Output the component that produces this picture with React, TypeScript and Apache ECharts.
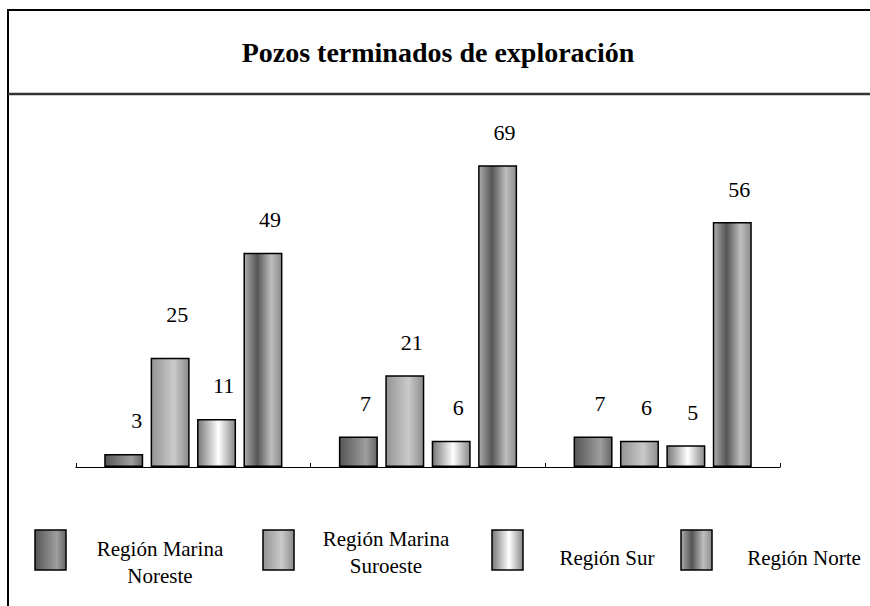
import React, { useEffect, useRef } from "react";
import * as echarts from "echarts";

// ---- Data ----
const categories = ["Grupo 1", "Grupo 2", "Grupo 3"];
const seriesNames = ["Región Marina Noreste", "Región Marina Suroeste", "Región Sur", "Región Norte"];
const marinaNoreste = [3, 7, 7];
const marinaSuroeste = [25, 21, 6];
const regionSur = [11, 6, 5];
const regionNorte = [49, 69, 56];
const seriesValues = [marinaNoreste, marinaSuroeste, regionSur, regionNorte];
const titleText = "Pozos terminados de exploración";

// ---- Styles ----
const FONT = "'Liberation Serif', 'Times New Roman', serif";
const gradientStops: [number, string][][] = [
  [[0, "#555555"], [0.7, "#9e9e9e"], [1, "#666666"]],
  [[0, "#939393"], [0.6, "#cacaca"], [1, "#8c8c8c"]],
  [[0, "#777777"], [0.55, "#ffffff"], [1, "#888888"]],
  [[0, "#acacac"], [0.35, "#555555"], [0.72, "#bebebe"], [1, "#8c8c8c"]],
];
const grad = (stops: [number, string][]) =>
  new echarts.graphic.LinearGradient(0, 0, 1, 0, stops.map(([offset, color]) => ({ offset, color })));

// label tweaks (layout only)
const labelOverrides: Record<string, any> = {
  "0-0": { offset: [13, 0] },
  "1-0": { distance: 32 },
};

// legend layout
const legendBoxX = [35, 263, 492, 681];
const legendTextX = [160, 386, 607, 804];
const legendTextY = [562, 552, 558, 558];
const legendLines = (name: string) => name.replace("Marina ", "Marina\n");

export default function App() {
  const ref = useRef<HTMLDivElement>(null);
  useEffect(() => {
    document.body.style.margin = "0";
    const chart = echarts.init(ref.current!, null, { renderer: "svg" });
    const series = seriesNames.map((name, si) => ({
      name,
      type: "bar",
      barWidth: 39,
      barGap: "19%",
      itemStyle: { color: grad(gradientStops[si]), borderColor: "#000", borderWidth: 1.5 },
      label: {
        show: true,
        position: "top",
        distance: 22,
        offset: [7, 0],
        fontFamily: FONT,
        fontSize: 22,
        color: "#000",
      },
      data: seriesValues[si].map((v, ci) => {
        const o = labelOverrides[`${si}-${ci}`];
        return o ? { value: v, label: o } : v;
      }),
    }));

    const legendGraphics: any[] = [];
    seriesNames.forEach((name, i) => {
      legendGraphics.push({
        type: "rect",
        silent: true,
        shape: { x: legendBoxX[i], y: 530, width: 31, height: 40 },
        style: { fill: grad(gradientStops[i]), stroke: "#000", lineWidth: 1.5 },
      });
      legendGraphics.push({
        type: "text",
        silent: true,
        x: legendTextX[i],
        y: legendTextY[i],
        style: {
          text: legendLines(name),
          fontFamily: FONT,
          fontSize: 21,
          fill: "#000",
          align: "center",
          verticalAlign: "middle",
          lineHeight: 27,
        },
      });
    });

    chart.setOption({
      animation: false,
      backgroundColor: "#ffffff",
      textStyle: { fontFamily: FONT },
      grid: { left: 76, right: 90, top: 117, bottom: 139 },
      xAxis: {
        type: "category",
        data: categories,
        axisLine: { lineStyle: { color: "#000", width: 1.2 } },
        axisTick: { show: true, inside: true, length: 4, lineStyle: { color: "#000" } },
        axisLabel: { show: false },
        splitLine: { show: false },
      },
      yAxis: { type: "value", min: 0, max: 80, show: false, splitLine: { show: false } },
      series,
      graphic: [
        {
          type: "rect",
          silent: true,
          shape: { x: 8, y: 10, width: 900, height: 650 },
          style: { fill: "none", stroke: "#000", lineWidth: 2 },
        },
        {
          type: "line",
          silent: true,
          shape: { x1: 8, y1: 94, x2: 880, y2: 94 },
          style: { stroke: "#333", lineWidth: 2.5 },
        },
        {
          type: "text",
          silent: true,
          x: 438,
          y: 52,
          style: {
            text: titleText,
            fontFamily: FONT,
            fontWeight: "bold",
            fontSize: 28,
            fill: "#000",
            align: "center",
            verticalAlign: "middle",
          },
        },
        ...legendGraphics,
      ],
    });
    return () => chart.dispose();
  }, []);
  return <div ref={ref} style={{ position: "fixed", left: 0, top: 0, width: 870, height: 606 }} />;
}
